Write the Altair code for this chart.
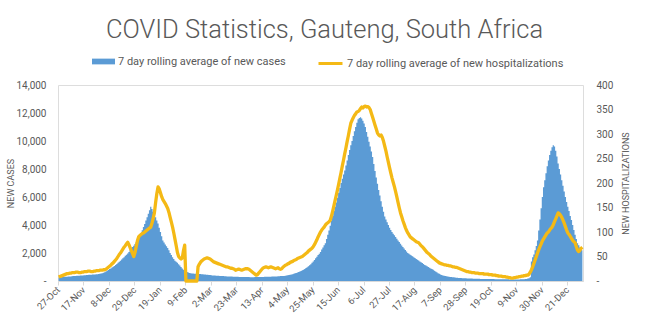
import altair as alt
import pandas as pd

# ---------------- data (daily 7-day rolling averages) -------------
start_date = "2020-10-27"

cases_oct20 = [250, 260, 270, 280, 290]
cases_nov20 = [300, 310, 310, 320, 330, 330, 340, 350, 350, 360,
               370, 370, 380, 390, 390, 400, 410, 410, 420, 430,
               440, 440, 450, 460, 470, 470, 480, 490, 500, 510]
cases_dec20 = [530, 560, 590, 630, 680,
               730, 790, 850, 900, 960, 1020, 1080, 1150, 1220, 1300,
               1380, 1450, 1530, 1620, 1700, 1800, 1880, 1970, 2080, 2200,
               2300, 2420, 2520, 2640, 2760, 2900]
cases_jan21 = [3080, 3250, 3420, 3620, 3850, 4080, 4320, 4550, 4800, 5050, 5300,
               5150, 4950, 4750, 4550, 4330, 4100, 3800, 3500, 3200, 2900,
               2750, 2600, 2480, 2350, 2200, 2000, 1850, 1700, 1580, 1450]
cases_feb21 = [1380, 1300, 1200, 1100, 1000, 900, 800,
               740, 690, 650, 610, 580, 550, 540,
               530, 520, 520, 510, 510, 500, 500,
               490, 480, 470, 460, 450, 440, 430]
cases_mar21 = [420, 410, 400, 400, 390, 380, 380, 370, 360, 360,
               350, 350, 340, 340, 330, 330, 320, 320, 320, 310,
               310, 300, 300, 300, 290, 290, 290, 280, 280, 280, 280]
cases_apr21 = [280, 280, 270, 270, 270, 270, 280, 280, 280, 280,
               290, 290, 290, 290, 300, 300, 300, 310, 310, 310,
               320, 320, 330, 330, 330, 340, 340, 350, 350, 360]
cases_may21 = [360, 370, 390, 410, 430, 450, 470, 490, 520, 550,
               580, 610, 640, 680, 720, 760, 810, 860, 920, 980,
               1050, 1120, 1200, 1300, 1400, 1500, 1620, 1740, 1850, 1950, 2080]
cases_jun21 = [2250, 2400, 2550, 2700,
               3000, 3300, 3600, 3950, 4300, 4650, 5000, 5300,
               5600, 5950, 6300, 6650, 7000, 7300, 7600, 7900,
               8250, 8600, 9000, 9350, 9700, 10000, 10350, 10700, 11000, 11300]
cases_jul21 = [11550, 11650, 11700, 11600, 11450, 11250, 11000,
               10650, 10300, 9950, 9600, 9250, 8850,
               8350, 7850, 7400, 6950, 6500,
               6100, 5700, 5300, 4950, 4600,
               4400, 4200, 4000, 3800, 3650, 3500, 3380, 3260]
cases_aug21 = [3150, 3020, 2900, 2780, 2660, 2540, 2430, 2320, 2210, 2100, 2000,
               1940, 1880, 1820, 1760, 1700, 1640, 1580, 1520, 1460, 1400, 1340, 1280, 1220, 1150,
               1100, 1050, 1000, 950, 900, 850]
cases_sep21 = [800, 740, 680, 620, 560, 510, 470, 430,
               400, 380, 360, 340, 320, 300, 290, 280, 270, 260,
               250, 240, 230, 220, 215, 210, 205, 200, 195, 190, 185, 180]
cases_oct21 = [175, 170, 170, 165, 165, 160, 160, 155, 155, 150,
               150, 150, 145, 145, 145, 140, 140, 140, 135, 135,
               135, 130, 130, 130, 130, 125, 125, 125, 120, 120, 120]
cases_nov21 = [120, 120, 115, 115, 115, 115, 110, 110, 110, 115,
               115, 120, 120, 125, 130, 140, 150, 170, 200, 260,
               1400, 1700, 1900, 2200, 2500, 2900, 3600, 4400, 5200, 6000]
cases_dec21 = [6700, 7200, 7700, 8200, 8600, 9000, 9300, 9550, 9700,
               9600, 9300, 8900, 8400,
               8000, 7600, 7200, 6800, 6400, 6000,
               5650, 5300, 5000, 4650, 4350,
               4000, 3650, 3300, 3000, 2700, 2550, 2400]
cases_jan22 = [2300, 2200]

hosp_oct20 = [8, 9, 10, 11, 12]
hosp_nov20 = [13, 14, 15, 15, 16, 16, 17, 17, 17, 18,
              18, 18, 17, 17, 18, 18, 19, 19, 19, 20,
              20, 20, 19, 19, 20, 20, 21, 21, 21, 22]
hosp_dec20 = [22, 22, 23, 23, 24,
              26, 28, 30, 32, 35, 37, 40, 43,
              46, 50, 54, 57, 61, 65, 69, 72, 76, 79,
              74, 68, 62, 56, 50,
              58, 70, 82]
hosp_jan21 = [90, 93, 95, 97, 98, 100, 102, 104, 106, 108,
              110, 118, 128, 139, 160, 178, 192,
              188, 180, 172, 166, 162, 158, 153, 148, 140, 130, 120, 110, 98, 85]
hosp_feb21 = [72, 58, 50, 47, 45, 47, 62, 73,
              0, 0, 0, 0, 0, 0, 0, 0, 0, 0,
              29, 34, 38, 41, 43, 45, 46, 47, 47, 46]
hosp_mar21 = [45, 43, 41, 39, 38, 37, 36, 35, 34, 33,
              32, 31, 30, 29, 29, 28, 27, 26, 26, 25,
              24, 22, 23, 24, 24, 23, 22, 23, 24, 25, 25]
hosp_apr21 = [25, 24, 22, 20, 18, 16, 14, 12, 13, 16,
              19, 22, 25, 27, 28, 29, 28, 27, 28, 29,
              28, 27, 26, 25, 26, 27, 25, 24, 25, 28]
hosp_may21 = [30, 32, 33, 35, 36, 38, 39, 40, 42, 43,
              44, 46, 47, 48, 49, 50, 52, 54, 56, 58,
              61, 63, 65, 67, 70, 74, 79, 84, 90, 95, 100]
hosp_jun21 = [104, 107, 110, 114, 117, 119, 121, 124, 132, 142,
              153, 164, 175, 186, 198, 210, 222, 235, 247, 260,
              272, 285, 297, 310, 322, 328, 333, 338, 341, 345]
hosp_jul21 = [346, 348, 352, 355, 353, 356, 357, 355, 356, 354, 350,
              342, 334, 326, 318, 310, 302, 298, 296, 298, 293, 285,
              275, 265, 253, 242, 231, 220, 210, 201, 192]
hosp_aug21 = [182, 171, 160, 149, 139, 131, 123, 116, 109, 103, 98, 94, 90,
              88, 86, 84, 82, 80, 79, 78, 75, 72, 70,
              67, 64, 61, 58, 56, 54, 51, 49]
hosp_sep21 = [47, 45, 43, 41, 39, 37, 36, 35, 34, 33,
              33, 32, 32, 31, 31, 30, 29, 29, 28, 28,
              27, 26, 25, 24, 23, 22, 21, 20, 19, 19]
hosp_oct21 = [18, 18, 17, 17, 17, 16, 16, 16, 15, 15,
              15, 15, 14, 14, 14, 14, 13, 13, 13, 12,
              12, 12, 11, 11, 10, 10, 10, 9, 9, 9, 8]
hosp_nov21 = [8, 7, 7, 6, 6, 6, 7, 7, 8, 8,
              9, 9, 10, 10, 11, 11, 12, 12, 14, 18,
              23, 29, 36, 43, 50, 57, 64, 70, 76, 82]
hosp_dec21 = [86, 90, 94, 98, 100, 104, 107, 110, 115, 121, 127, 133, 139,
              137, 134, 130, 124, 118, 111, 104, 98,
              95, 91, 87, 83, 80, 78, 70, 63, 60, 63]
hosp_jan22 = [67, 69]

cases_name = "7 day rolling average of new cases"
hosp_name = "7 day rolling average of new hospitalizations"
y_left_ticks = [0, 2000, 4000, 6000, 8000, 10000, 12000, 14000]
y_right_ticks = [0, 50, 100, 150, 200, 250, 300, 350, 400]

# ---------------- assemble ----------------
cases = (cases_oct20 + cases_nov20 + cases_dec20 + cases_jan21 + cases_feb21 + cases_mar21 +
         cases_apr21 + cases_may21 + cases_jun21 + cases_jul21 + cases_aug21 + cases_sep21 +
         cases_oct21 + cases_nov21 + cases_dec21 + cases_jan22)
hosp = (hosp_oct20 + hosp_nov20 + hosp_dec20 + hosp_jan21 + hosp_feb21 + hosp_mar21 +
        hosp_apr21 + hosp_may21 + hosp_jun21 + hosp_jul21 + hosp_aug21 + hosp_sep21 +
        hosp_oct21 + hosp_nov21 + hosp_dec21 + hosp_jan22)

start = pd.Timestamp(start_date)
n_days = max(len(cases), len(hosp))
# daily values are placed at the middle of each day (category centre)
df_c = pd.DataFrame({"date": pd.date_range(start, periods=len(cases), freq="D") + pd.Timedelta(hours=12),
                     "cases": cases})
df_c["series"] = cases_name

df_h = pd.DataFrame({"date": pd.date_range(start, periods=len(hosp), freq="D") + pd.Timedelta(hours=12),
                     "hosp": hosp})
df_h["series"] = hosp_name

end = start + pd.Timedelta(days=n_days)
tick_dates = pd.date_range(start, end, freq="21D")
tick_values = [alt.DateTime(year=d.year, month=d.month, date=d.day) for d in tick_dates]
x_domain = [alt.DateTime(year=start.year, month=start.month, date=start.day),
            alt.DateTime(year=end.year, month=end.month, date=end.day)]

TXT = "#595959"
FONT = "Roboto"
NBSP = "\u00a0"

x_axis = alt.Axis(
    values=tick_values, format="%-d-%b", labelAngle=-45, labelAlign="right",
    labelBaseline="middle", labelFontSize=9.5, labelColor=TXT, labelFont=FONT,
    tickSize=4, tickColor="#D9D9D9", domainColor="#D9D9D9", grid=False, title=None,
    labelPadding=3, labelOverlap=False, labelFlush=False, labelBound=False,
)
x_scale = alt.Scale(domain=x_domain)

# daily bars drawn as one stepped shape (one step per day) so there are no seams
bars = alt.Chart(df_c).mark_area(interpolate="step").encode(
    x=alt.X("date:T", scale=x_scale, axis=x_axis),
    y=alt.Y(
        "cases:Q",
        scale=alt.Scale(domain=[0, 14000], nice=False),
        axis=alt.Axis(
            orient="left", values=y_left_ticks,
            labelExpr=f"datum.value == 0 ? '-{NBSP}{NBSP}{NBSP}' : format(datum.value, ',')",
            ticks=False, domain=False, grid=False, labelPadding=12, labelFontSize=10,
            labelColor=TXT, labelFont=FONT,
            title="NEW CASES", titleAngle=270, titleX=-48, titleY=98, titleAlign="center",
            titleBaseline="middle", titleFontSize=9, titleFontWeight="normal",
            titleColor=TXT, titleFont=FONT,
        ),
    ),
    color=alt.Color(
        "series:N",
        scale=alt.Scale(domain=[cases_name], range=["#5B9BD5"]),
        legend=alt.Legend(
            title=None, orient="none", legendX=34, legendY=-35,
            symbolType="M-1,-0.25H1V0.25H-1Z", symbolSize=529, symbolStrokeWidth=0,
            labelFontSize=11, labelColor=TXT, labelFont=FONT, labelLimit=500,
            labelOffset=3, padding=0,
        ),
    ),
)

line = alt.Chart(df_h).mark_line(strokeWidth=3.3, strokeJoin="round").encode(
    x=alt.X("date:T", scale=x_scale, axis=x_axis),
    y=alt.Y(
        "hosp:Q",
        scale=alt.Scale(domain=[0, 400], nice=False),
        axis=alt.Axis(
            orient="right", values=y_right_ticks,
            labelExpr="datum.value == 0 ? '-' : format(datum.value, ',')",
            ticks=False, domain=False, grid=False, labelPadding=13, labelFontSize=10,
            labelColor=TXT, labelFont=FONT,
            title="NEW HOSPITALIZATIONS", titleAngle=270, titleX=42, titleY=98,
            titleAlign="center", titleBaseline="middle", titleFontSize=9,
            titleFontWeight="normal", titleColor=TXT, titleFont=FONT,
        ),
    ),
    color=alt.Color(
        "series:N",
        scale=alt.Scale(domain=[hosp_name], range=["#F4B915"]),
        legend=alt.Legend(
            title=None, orient="none", legendX=259, legendY=-35,
            symbolType="stroke", symbolSize=576, symbolStrokeWidth=3,
            labelFontSize=11, labelColor=TXT, labelFont=FONT, labelLimit=500,
            labelOffset=3, padding=0,
        ),
    ),
)

chart = (
    alt.layer(bars, line)
    .resolve_scale(y="independent", color="independent")
    .resolve_legend(color="independent")
    .properties(
        width=525, height=196,
        padding={"left": 58, "top": 85, "right": 67, "bottom": 43},
        autosize=alt.AutoSizeParams(type="none"),
        title=alt.TitleParams(
            "COVID Statistics, Gauteng, South Africa", fontSize=25.5, font=FONT,
            fontWeight=300, color=TXT, anchor="middle", offset=7, dx=4,
        ),
    )
    .configure_view(stroke=None)
    .configure(background="white")
)

chart.save("out.html", embed_options={"renderer": "svg", "actions": False})
